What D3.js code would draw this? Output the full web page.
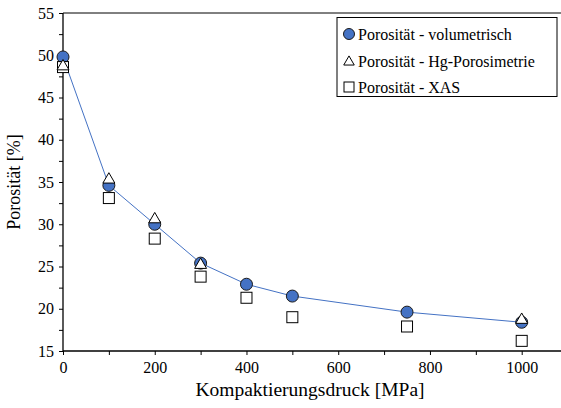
<!DOCTYPE html>
<html>
<head>
<meta charset="utf-8">
<script src="https://cdn.jsdelivr.net/npm/d3@7"></script>
<style>
  body { margin: 0; background: #fff; }
  svg text { font-family: "Liberation Serif", "Times New Roman", Times, "DejaVu Serif", "Noto Serif", serif; fill: #000; }
</style>
</head>
<body>
<script>
// pressure values [MPa]
var pressure = [0, 100, 200, 300, 400, 500, 750, 1000];

// porosity series [%]
var volumetric = [49.8, 34.6, 30.0, 25.4, 22.9, 21.5, 19.6, 18.4];
var hgPorosimetry = [48.8, 35.4, 30.7, 25.3, null, null, null, 18.8];
var xas = [48.6, 33.1, 28.3, 23.8, 21.3, 19.0, 17.9, 16.2];

var legendLabels = ["Porosität - volumetrisch", "Porosität - Hg-Porosimetrie", "Porosität - XAS"];
var xTicks = [0, 200, 400, 600, 800, 1000];
var yTicks = [15, 20, 25, 30, 35, 40, 45, 50, 55];

var width = 561, height = 408;
var serif = '"Liberation Serif", "Times New Roman", Times, "DejaVu Serif", serif';

var svg = d3.select("body").append("svg")
  .attr("width", width)
  .attr("height", height);

// scales
var x = d3.scaleLinear().domain([0, 1000]).range([63, 521.7]);
var y = d3.scaleLinear().domain([15, 55]).range([351, 13]);

// top frame line
svg.append("line")
  .attr("x1", x(0)).attr("x2", width)
  .attr("y1", y(55)).attr("y2", y(55))
  .attr("stroke", "#000").attr("stroke-width", 1);

// x axis
var xAxis = d3.axisBottom(x)
  .tickValues(d3.range(0, 1101, 100))
  .tickSize(4)
  .tickFormat(function(d) { return xTicks.indexOf(d) >= 0 ? d : ""; });

var gx = svg.append("g")
  .attr("transform", "translate(0," + y(15) + ")")
  .call(xAxis)
  .attr("font-family", serif);
gx.select(".domain").remove();
gx.append("line")
  .attr("x1", x(0)).attr("x2", width)
  .attr("stroke", "#000").attr("stroke-width", 1.3);
gx.selectAll(".tick line").attr("stroke", "#000");
gx.selectAll(".tick text")
  .attr("y", 11)
  .attr("fill", "#000")
  .style("font-size", "16px");

// y axis
var yAxis = d3.axisLeft(y)
  .tickValues(d3.range(15, 55.1, 2.5))
  .tickSize(4)
  .tickFormat(function(d) { return yTicks.indexOf(d) >= 0 ? d : ""; });

var gy = svg.append("g")
  .attr("transform", "translate(" + x(0) + ",0)")
  .call(yAxis)
  .attr("font-family", serif);
gy.select(".domain").attr("stroke", "#000").attr("stroke-width", 1.3)
  .attr("d", "M0," + y(55) + "V" + y(15));
gy.selectAll(".tick line").attr("stroke", "#000");
gy.selectAll(".tick text")
  .attr("x", -9)
  .attr("fill", "#000")
  .style("font-size", "16px");

// axis titles
svg.append("text")
  .attr("x", 310)
  .attr("y", 396)
  .attr("text-anchor", "middle")
  .attr("font-family", serif)
  .style("font-size", "19.5px")
  .text("Kompaktierungsdruck [MPa]");

svg.append("text")
  .attr("transform", "translate(20," + ((y(55) + y(15)) / 2) + ") rotate(-90)")
  .attr("text-anchor", "middle")
  .attr("font-family", serif)
  .style("font-size", "18px")
  .text("Porosität [%]");

var blue = "#4472C4";

// line through volumetric points
var line = d3.line()
  .x(function(d, i) { return x(pressure[i]); })
  .y(function(d) { return y(d); });

svg.append("path")
  .datum(volumetric)
  .attr("d", line)
  .attr("fill", "none")
  .attr("stroke", blue)
  .attr("stroke-width", 1);

// circles
svg.selectAll("circle.vol")
  .data(volumetric)
  .enter().append("circle")
  .attr("class", "vol")
  .attr("cx", function(d, i) { return x(pressure[i]); })
  .attr("cy", function(d) { return y(d); })
  .attr("r", 6)
  .attr("fill", blue)
  .attr("stroke", "#1a1a1a")
  .attr("stroke-width", 1);

// squares
svg.selectAll("rect.xas")
  .data(xas)
  .enter().append("rect")
  .attr("class", "xas")
  .attr("x", function(d, i) { return x(pressure[i]) - 5.5; })
  .attr("y", function(d) { return y(d) - 5.5; })
  .attr("width", 11)
  .attr("height", 11)
  .attr("fill", "#fff")
  .attr("stroke", "#000")
  .attr("stroke-width", 1);

// triangles
var tri = d3.symbol().type(d3.symbolTriangle).size(62);
svg.selectAll("path.hg")
  .data(hgPorosimetry.map(function(v, i) { return {p: pressure[i], v: v}; })
    .filter(function(d) { return d.v !== null; }))
  .enter().append("path")
  .attr("class", "hg")
  .attr("d", tri)
  .attr("transform", function(d) { return "translate(" + x(d.p) + "," + (y(d.v) + 1) + ")"; })
  .attr("fill", "#fff")
  .attr("stroke", "#000")
  .attr("stroke-width", 1);

// legend
var legend = svg.append("g").attr("font-family", serif);
legend.append("rect")
  .attr("x", 337).attr("y", 17.5)
  .attr("width", 220).attr("height", 79)
  .attr("fill", "#fff")
  .attr("stroke", "#000")
  .attr("stroke-width", 1);

var rowY = [34, 61, 87];
legend.append("circle")
  .attr("cx", 349).attr("cy", rowY[0])
  .attr("r", 5.5)
  .attr("fill", blue).attr("stroke", "#1a1a1a");
legend.append("path")
  .attr("d", d3.symbol().type(d3.symbolTriangle).size(48))
  .attr("transform", "translate(349," + (rowY[1] + 1) + ")")
  .attr("fill", "#fff").attr("stroke", "#000");
legend.append("rect")
  .attr("x", 344).attr("y", rowY[2] - 5)
  .attr("width", 10).attr("height", 10)
  .attr("fill", "#fff").attr("stroke", "#000");

legend.selectAll("text.lg")
  .data(legendLabels)
  .enter().append("text")
  .attr("class", "lg")
  .attr("x", 358)
  .attr("y", function(d, i) { return rowY[i] + 5.5; })
  .style("font-size", "16px")
  .text(function(d) { return d; });
</script>
</body>
</html>
